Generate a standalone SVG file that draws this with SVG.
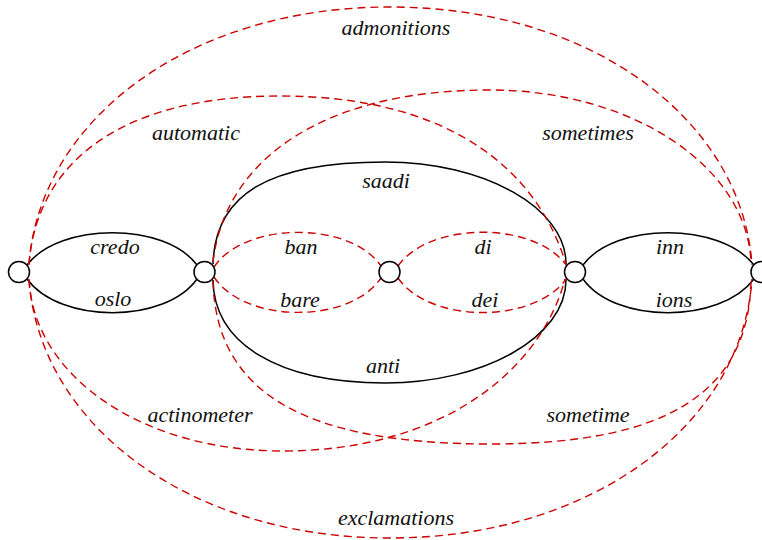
<svg xmlns="http://www.w3.org/2000/svg" width="762" height="540" viewBox="0 0 762 540">
<style>
.s{fill:none;stroke:#000;stroke-width:1.5}
.d{fill:none;stroke:#cc0000;stroke-width:1.4;stroke-dasharray:8,5}
.n{fill:#fff;stroke:#000;stroke-width:1.5}
text{font-family:"Liberation Serif","Times New Roman",serif;font-style:italic;font-size:22px;fill:#111;text-anchor:middle}
</style>
<rect width="762" height="540" fill="#fff"/>
<g id="connectors">
<g id="e-credo"><path class="s" d="M27,265 C60,222 165,222 197,265"/><text x="115" y="254">credo</text></g>
<g id="e-oslo"><path class="s" d="M27,279 C60,324 165,324 197,279"/><text x="113" y="306">oslo</text></g>
<g id="e-inn"><path class="s" d="M583,265 C615,222 720,222 754,265"/><text x="670" y="254">inn</text></g>
<g id="e-ions"><path class="s" d="M583,279 C615,324 720,324 754,279"/><text x="674" y="307">ions</text></g>
<g id="e-saadi"><path class="s" d="M213,264 C215,194.6 268,162 385,162 C484.5,162 566,207.9 566,264"/><text x="386" y="188">saadi</text></g>
<g id="e-anti"><path class="s" d="M213,280 C214,343.9 278.4,383 385,383 C484.5,383 566,336.7 566,280"/><text x="383" y="373">anti</text></g>
<g id="e-ban"><path class="d" d="M214,267 C245,221 350,221 381,266"/><text x="301" y="254">ban</text></g>
<g id="e-bare"><path class="d" d="M214,277 C245,324 350,324 381,278"/><text x="300" y="307">bare</text></g>
<g id="e-di"><path class="d" d="M398,266 C430,221 535,221 567,266"/><text x="483" y="254">di</text></g>
<g id="e-dei"><path class="d" d="M398,278 C430,324 535,324 567,278"/><text x="485" y="307">dei</text></g>
<g id="e-admonitions"><path class="d" d="M29,265 C39,120.5 188,7 390,7 C593,7 742,120.5 752,265"/><text x="396" y="35">admonitions</text></g>
<g id="e-exclamations"><path class="d" d="M29,279 C39,424 188,538 390,538 C593,538 742,424 752,279"/><text x="396" y="525">exclamations</text></g>
<g id="e-automatic"><path class="d" d="M29,264 C37,160 124,96 280,96 C446,96 536,166.6 566,264"/><text x="196" y="140">automatic</text></g>
<g id="e-sometimes"><path class="d" d="M213,262 C225,158.8 323.8,90 490,90 C633.6,90 748,167.9 751,263"/><text x="588" y="140">sometimes</text></g>
<g id="e-actinometer"><path class="d" d="M29,280 C34,375.8 140.8,451 283,451 C438,451 540,373.6 565,279"/><text x="200" y="422">actinometer</text></g>
<g id="e-sometime"><path class="d" d="M213,281 C216,391.8 302,444 491,444 C667.8,444 748,392 751,282"/><text x="588" y="422">sometime</text></g>
</g>
<g id="n1"><circle class="n" cx="19" cy="272" r="10.5"/></g>
<g id="n2"><circle class="n" cx="204.5" cy="272" r="10.5"/></g>
<g id="n3"><circle class="n" cx="389.5" cy="272" r="10.5"/></g>
<g id="n4"><circle class="n" cx="575" cy="272" r="10.5"/></g>
<g id="n5"><circle class="n" cx="761.5" cy="272" r="10.5"/></g>
</svg>
